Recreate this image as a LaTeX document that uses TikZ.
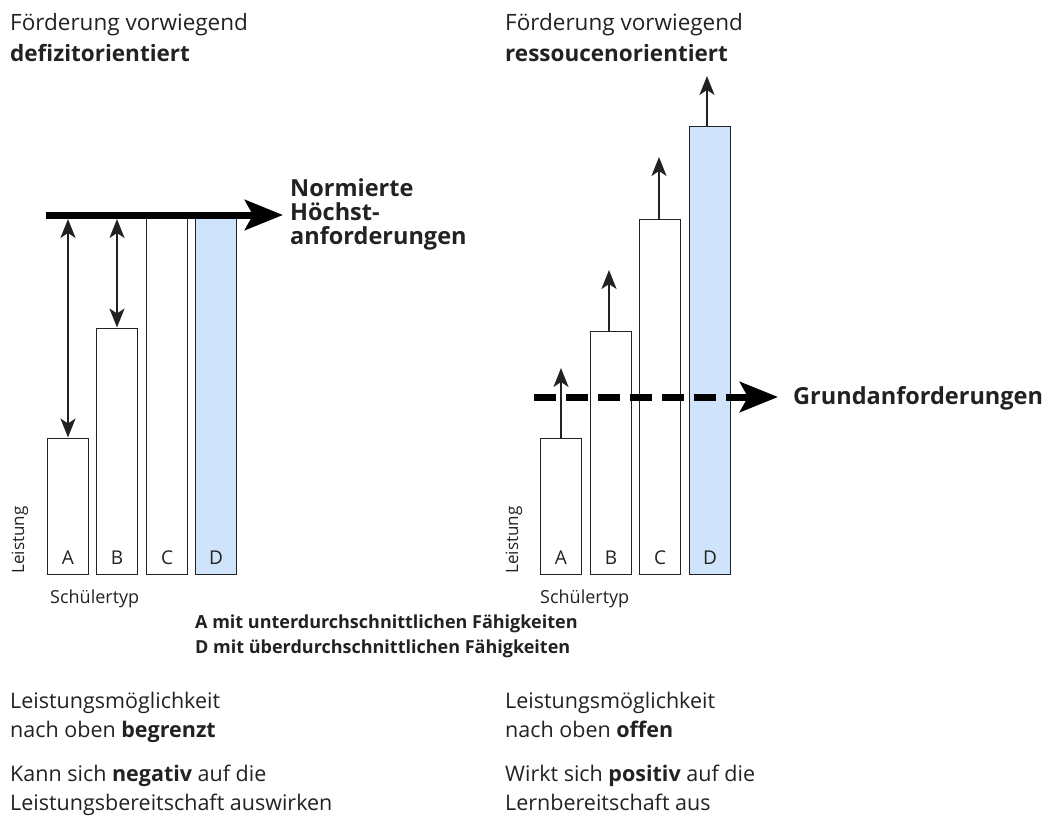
\documentclass[tikz,border=0pt]{standalone}
\usepackage{fontspec}
\setmainfont{Open Sans}
\usetikzlibrary{arrows.meta,positioning}
\definecolor{barblue}{HTML}{CFE4FA}
\definecolor{ink}{HTML}{222222}
\tikzset{
  bar/.style={draw=ink, line width=1.5pt, minimum width=41pt, anchor=south, inner sep=0pt},
  lettr/.style={inner sep=0pt, text=ink, font=\fontsize{19}{20}\selectfont},
  txt/.style={anchor=base west, inner sep=0pt, text=ink, font=\fontsize{21.5}{24}\selectfont},
  bigarrow/.style={draw=black, line width=7pt, -{Stealth[length=38pt,width=30pt,inset=8pt]}},
  uparrow/.style={draw=ink, line width=2pt, -{Stealth[length=19pt,width=15pt,inset=5pt]}},
  bothways/.style={draw=ink, line width=2pt, {Stealth[length=19pt,width=15pt,inset=5pt]}-{Stealth[length=19pt,width=15pt,inset=5pt]}}
}

\begin{document}
\begin{tikzpicture}[x=1pt,y=-1pt]
\useasboundingbox (0,0) rectangle (1052,827);

% headings
\node[txt, font=\fontsize{22.5}{24}\selectfont] (lhead) at (10,30) {Förderung vorwiegend};
\node[txt, font=\fontsize{22.5}{24}\selectfont] (lhead2) at (10,61) {\textbf{defizitorientiert}};
\node[txt, font=\fontsize{22.5}{24}\selectfont] (rhead) at (505,30) {Förderung vorwiegend};
\node[txt, font=\fontsize{22.5}{24}\selectfont] (rhead2) at (505,61) {\textbf{ressoucenorientiert}};

% left: bars
\foreach \n/\x/\h/\c in {A/68/136/white, B/117/246/white, C/167/360/white, D/216/360/barblue} {
  \node[bar, fill=\c, minimum height=\h pt] (l\n) at (\x,575) {};
  \node[lettr, above=10pt of l\n.south] (l\n txt) {\n};
}
\coordinate (lstart) at (46,215);
\coordinate (lend) at (283,215);
\coordinate (lunder) at (0,219);
\draw[bigarrow] (lstart) -- (lend);
\draw[bothways] (lA.north) -- (lA.north |- lunder);
\draw[bothways] (lB.north) -- (lB.north |- lunder);
\node[txt, font=\fontsize{23.5}{24}\bfseries] (norm1) at (290,196) {Normierte};
\node[txt, font=\fontsize{23.5}{24}\bfseries] (norm2) at (290,220) {Höchst-};
\node[txt, font=\fontsize{23.5}{24}\bfseries] (norm3) at (290,244) {anforderungen};
\node[text=ink, rotate=90, inner sep=0pt, font=\fontsize{17}{18}\selectfont] (lleist) at (20,540) {Leistung};
\node[txt, font=\fontsize{18}{18}\selectfont] (lschul) at (50,603) {Schülertyp};

% right: bars
\foreach \n/\x/\h/\c in {A/561/136/white, B/611/243/white, C/660/355/white, D/710/448/barblue} {
  \node[bar, fill=\c, minimum height=\h pt] (r\n) at (\x,575) {};
  \node[lettr, above=10pt of r\n.south] (r\n txt) {\n};
}
\coordinate (rAtip) at (561,368);
\coordinate (rBtip) at (609,270);
\coordinate (rCtip) at (659,157);
\coordinate (rDtip) at (707,76);
\draw[uparrow] (rA.north) -- (rAtip);
\draw[uparrow] ([xshift=-2pt]rB.north) -- (rBtip);
\draw[uparrow] ([xshift=-1pt]rC.north) -- (rCtip);
\draw[uparrow] ([xshift=-3pt]rD.north) -- (rDtip);
\coordinate (rstart) at (534,397);
\coordinate (rend) at (778,397);
\draw[bigarrow, dash pattern=on 22pt off 10pt] (rstart) -- (rend);
\node[txt, font=\fontsize{23.5}{24}\bfseries] (grund) at (793,404) {Grundanforderungen};
\node[text=ink, rotate=90, inner sep=0pt, font=\fontsize{17}{18}\selectfont] (rleist) at (514,540) {Leistung};
\node[txt, font=\fontsize{18}{18}\selectfont] (rschul) at (540,603) {Schülertyp};

% legend
\node[txt, font=\fontsize{18}{18}\bfseries] (legA) at (195,628) {A mit unterdurchschnittlichen Fähigkeiten};
\node[txt, font=\fontsize{18}{18}\bfseries] (legD) at (195,653) {D mit überdurchschnittlichen Fähigkeiten};

% bottom texts
\node[txt] (lb1) at (10,708) {Leistungsmöglichkeit};
\node[txt] (lb2) at (10,737) {nach oben \textbf{begrenzt}};
\node[txt] (lb3) at (10,781) {Kann sich \textbf{negativ} auf die};
\node[txt] (lb4) at (10,810) {Leistungsbereitschaft auswirken};
\node[txt] (rb1) at (505,708) {Leistungsmöglichkeit};
\node[txt] (rb2) at (505,737) {nach oben \textbf{offen}};
\node[txt] (rb3) at (505,781) {Wirkt sich \textbf{positiv} auf die};
\node[txt] (rb4) at (505,810) {Lernbereitschaft aus};
\end{tikzpicture}
\end{document}
